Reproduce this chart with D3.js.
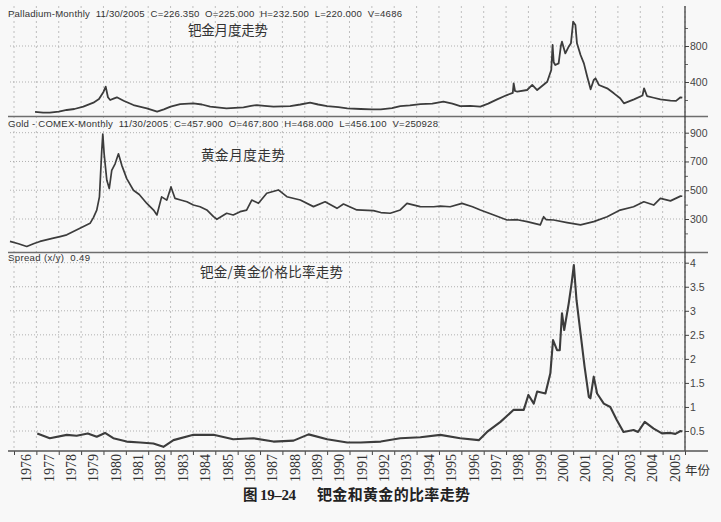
<!DOCTYPE html>
<html><head><meta charset="utf-8">
<script src="https://cdn.jsdelivr.net/npm/d3@7"></script>
<style>body{margin:0;background:#f8f8f8}svg{display:block}text{white-space:pre}</style>
</head><body><svg id="c" width="721" height="522"></svg>
<script>
// ---------- data (decimal year, value) ----------
const years = d3.range(1976, 2006);
const palladium = [[1976.94,67],[1977.3,60],[1977.6,59],[1978.0,72],[1978.36,89],[1978.7,100],[1979.1,126],[1979.55,170],[1979.8,210],[1980.0,290],[1980.1,348],[1980.2,230],[1980.3,200],[1980.45,215],[1980.6,230],[1980.9,192],[1981.34,144],[1981.94,108],[1982.4,70],[1982.7,95],[1983.0,126],[1983.43,155],[1984.02,163],[1984.4,150],[1984.77,126],[1985.5,108],[1986.26,119],[1986.6,135],[1986.86,144],[1987.2,135],[1987.6,126],[1988.35,133],[1988.8,150],[1989.24,170],[1989.6,150],[1990.0,133],[1990.5,120],[1990.9,108],[1991.5,100],[1992.0,95],[1992.4,96],[1992.9,110],[1993.27,133],[1993.7,140],[1994.17,155],[1994.7,160],[1995.2,181],[1995.6,160],[1995.95,133],[1996.4,135],[1996.85,126],[1997.2,160],[1997.6,207],[1998.04,255],[1998.3,280],[1998.34,385],[1998.4,300],[1998.5,293],[1998.94,311],[1999.17,367],[1999.39,311],[1999.84,403],[2000.02,533],[2000.08,811],[2000.13,620],[2000.2,589],[2000.35,607],[2000.45,800],[2000.5,848],[2000.65,718],[2000.8,792],[2000.9,830],[2000.97,1000],[2001.0,1070],[2001.1,1033],[2001.17,830],[2001.33,700],[2001.48,607],[2001.63,459],[2001.78,319],[2001.92,422],[2002.0,441],[2002.15,367],[2002.52,330],[2002.82,274],[2003.1,219],[2003.27,163],[2003.72,207],[2004.1,250],[2004.17,330],[2004.3,244],[2004.6,225],[2004.9,207],[2005.35,192],[2005.6,190],[2005.8,230],[2005.88,226]];
const gold = [[1975.82,144],[1976.2,128],[1976.57,109],[1976.9,130],[1977.16,144],[1977.76,167],[1978.06,178],[1978.36,190],[1978.95,235],[1979.4,270],[1979.55,310],[1979.7,362],[1979.82,454],[1979.92,765],[1979.97,891],[1980.03,753],[1980.15,569],[1980.26,512],[1980.37,638],[1980.52,684],[1980.67,753],[1980.82,673],[1981.04,581],[1981.34,500],[1981.6,470],[1981.94,408],[1982.24,362],[1982.39,328],[1982.6,454],[1982.83,431],[1983.02,523],[1983.2,443],[1983.45,432],[1983.73,420],[1984.02,397],[1984.32,385],[1984.62,363],[1984.92,316],[1985.07,298],[1985.51,340],[1985.8,328],[1986.11,351],[1986.4,362],[1986.63,432],[1986.93,409],[1987.3,479],[1987.82,502],[1988.2,455],[1988.8,432],[1989.39,386],[1989.91,420],[1990.44,374],[1990.73,404],[1991.33,363],[1992.07,358],[1992.4,345],[1992.82,340],[1993.27,363],[1993.57,409],[1994.16,386],[1994.76,385],[1995.06,390],[1995.5,385],[1996.03,409],[1996.5,385],[1996.85,363],[1997.45,328],[1998.04,293],[1998.5,295],[1998.94,282],[1999.53,259],[1999.68,316],[1999.8,295],[2000.13,293],[2000.73,275],[2001.33,259],[2001.92,282],[2002.52,316],[2003.1,362],[2003.7,385],[2004.16,420],[2004.6,397],[2004.9,443],[2005.35,426],[2005.8,459],[2005.88,458]];
const spread = [[1977.04,0.45],[1977.6,0.35],[1978.36,0.42],[1978.8,0.40],[1979.3,0.45],[1979.7,0.38],[1980.07,0.46],[1980.44,0.35],[1981.04,0.28],[1981.64,0.26],[1982.23,0.24],[1982.68,0.17],[1983.13,0.31],[1984.02,0.42],[1984.92,0.42],[1985.8,0.33],[1986.7,0.35],[1987.6,0.28],[1988.5,0.30],[1989.17,0.43],[1990.0,0.33],[1990.9,0.26],[1991.5,0.26],[1992.4,0.28],[1993.27,0.35],[1994.17,0.37],[1995.06,0.42],[1995.95,0.35],[1996.78,0.31],[1997.15,0.48],[1997.75,0.69],[1998.34,0.94],[1998.79,0.94],[1999.0,1.25],[1999.24,1.07],[1999.39,1.32],[1999.76,1.28],[1999.98,1.70],[2000.1,2.39],[2000.28,2.18],[2000.4,2.18],[2000.5,2.95],[2000.6,2.60],[2000.8,3.15],[2000.93,3.57],[2001.03,3.95],[2001.15,3.22],[2001.33,2.53],[2001.51,1.84],[2001.7,1.21],[2001.77,1.18],[2001.92,1.63],[2002.07,1.28],[2002.37,1.07],[2002.66,1.0],[2002.95,0.73],[2003.25,0.48],[2003.7,0.52],[2003.9,0.48],[2004.2,0.69],[2004.6,0.55],[2004.97,0.45],[2005.35,0.46],[2005.57,0.44],[2005.8,0.50],[2005.88,0.49]];
const pdTicks = [400, 800], pdMinor = [200, 600, 1000];
const goldTicks = [300, 500, 700, 900], goldMinor = [200, 400, 600, 800];
const spreadTicks = [0.5, 1, 1.5, 2, 2.5, 3, 3.5, 4];
const pdHeader = "Palladium-Monthly  11/30/2005  C=226.350  O=225.000  H=232.500  L=220.000  V=4686";
const goldHeader = "Gold - COMEX-Monthly  11/30/2005  C=457.900  O=467.800  H=468.000  L=456.100  V=250928";
const spreadHeader = "Spread (x/y)  0.49";
const pdTitle = "钯金月度走势", goldTitle = "黄金月度走势", spreadTitle = "钯金/黄金价格比率走势";
const xUnit = "年份", captionFig = "图", captionNo = "19–24", captionText = "钯金和黄金的比率走势";

// ---------- layout ----------
const svg = d3.select("#c");
svg.append("rect").attr("width",721).attr("height",522).attr("fill","#f8f8f8");
const axisX = 685, left = 8, sepRight = 708;
const x = d3.scaleLinear().domain([1976, 2006]).range([14, axisX]);
const panels = [
  {data: palladium, y: d3.scaleLinear().domain([400,800]).range([82,46]), top: 5, bottom: 116.5, ticks: pdTicks, minor: pdMinor, fmt: d3.format("d"), w: 1.8},
  {data: gold, y: d3.scaleLinear().domain([300,900]).range([219,132.7]), top: 116.5, bottom: 252.5, ticks: goldTicks, minor: goldMinor, fmt: d3.format("d"), w: 1.7},
  {data: spread, y: d3.scaleLinear().domain([0.5,4]).range([431,262.7]), top: 252.5, bottom: 451, ticks: spreadTicks, minor: [], fmt: d => String(d), w: 2.1}
];

// vertical grid
svg.append("g").selectAll("line").data(years.concat([2006])).join("line")
  .attr("x1", d => x(d)).attr("x2", d => x(d)).attr("y1", 6).attr("y2", 451)
  .attr("stroke", "#b0b0b0").attr("stroke-width", 0.8).attr("stroke-dasharray", "2,3");

panels.forEach((p, i) => {
  svg.append("g").selectAll("line").data(p.ticks).join("line")
    .attr("x1", left+2).attr("x2", axisX).attr("y1", d => p.y(d)).attr("y2", d => p.y(d))
    .attr("stroke", "#a8a8a8").attr("stroke-width", 0.9).attr("stroke-dasharray", "1,2");
  svg.append("clipPath").attr("id", "cp"+i).append("rect")
    .attr("x", left).attr("y", p.top+1).attr("width", axisX-left).attr("height", p.bottom-p.top-2);
  const line = d3.line().x(d => x(d[0])).y(d => p.y(d[1]));
  svg.append("path").datum(p.data).attr("d", line).attr("clip-path", "url(#cp"+i+")")
    .attr("fill", "none").attr("stroke", "#3c3c3c").attr("stroke-width", p.w)
    .attr("stroke-linejoin", "round");
  const ax = svg.append("g").attr("transform", `translate(${axisX},0)`)
    .call(d3.axisRight(p.y).tickValues(p.ticks).tickFormat(p.fmt).tickSize(4).tickPadding(1));
  ax.select(".domain").remove();
  ax.selectAll("line").attr("stroke", "#444");
  ax.selectAll("text").attr("font-family", "Liberation Sans, Arial, sans-serif").attr("font-size", 10.5).attr("fill", "#444");
  const mn = svg.append("g").attr("transform", `translate(${axisX},0)`)
    .call(d3.axisRight(p.y).tickValues(p.minor).tickFormat("").tickSize(3));
  mn.select(".domain").remove();
  mn.selectAll("line").attr("stroke", "#666");
});

// separators
[116.5, 252.5].forEach(yy => svg.append("line").attr("x1", left).attr("x2", sepRight)
  .attr("y1", yy).attr("y2", yy).attr("stroke", "#6e6e6e").attr("stroke-width", 1.6));
svg.append("line").attr("x1", axisX).attr("x2", axisX).attr("y1", 6).attr("y2", 451)
  .attr("stroke", "#333").attr("stroke-width", 1.2);

// bottom axis
const bx = svg.append("g").attr("transform", "translate(0,451)")
  .call(d3.axisBottom(x).tickValues(years.concat([2006])).tickFormat("").tickSize(4));
bx.select(".domain").remove();
bx.selectAll("line").attr("stroke", "#444");
svg.append("line").attr("x1", left).attr("x2", sepRight).attr("y1", 451).attr("y2", 451)
  .attr("stroke", "#555").attr("stroke-width", 1.4);
const lx = svg.append("g").attr("transform", "translate(0,454)")
  .call(d3.axisBottom(x).tickValues(years.map(d => d + 0.5)).tickFormat(d => String(Math.floor(d))).tickSize(0));
lx.select(".domain").remove();
lx.selectAll(".tick").attr("transform", d => `translate(${x(d)+1},0)`);
lx.selectAll("text")
  .attr("transform", "rotate(-90)")
  .attr("x", 0).attr("y", 0).attr("dy", "0.36em").attr("text-anchor", "end")
  .attr("font-family", "Liberation Serif, Times New Roman, serif").attr("font-size", 14).attr("fill", "#333");

// headers
const sans = "Liberation Sans, Arial, sans-serif";
svg.append("text").attr("x", 8).attr("y", 17).text(pdHeader).attr("font-family", sans).attr("font-size", 9.6).attr("fill", "#333").attr("textLength", 394).attr("lengthAdjust", "spacing");
svg.append("text").attr("x", 8).attr("y", 126.5).text(goldHeader).attr("font-family", sans).attr("font-size", 9.6).attr("fill", "#333").attr("textLength", 430).attr("lengthAdjust", "spacing");
svg.append("text").attr("x", 8).attr("y", 261).text(spreadHeader).attr("font-family", sans).attr("font-size", 9.6).attr("fill", "#333").attr("textLength", 82).attr("lengthAdjust", "spacing");

const cjk = "Noto Sans CJK SC, sans-serif";
svg.append("text").attr("x", 188).attr("y", 35).text(pdTitle).attr("font-family", cjk).attr("font-size", 13.5).attr("fill", "#333").attr("textLength", 80);
svg.append("text").attr("x", 201).attr("y", 160).text(goldTitle).attr("font-family", cjk).attr("font-size", 13.5).attr("fill", "#333").attr("textLength", 84);
svg.append("text").attr("x", 200).attr("y", 277).text(spreadTitle).attr("font-family", cjk).attr("font-size", 13.5).attr("fill", "#333").attr("textLength", 143);
svg.append("text").attr("x", 685).attr("y", 475).text(xUnit).attr("font-family", cjk).attr("font-size", 12.5).attr("fill", "#333");

// caption
svg.append("text").attr("x", 243).attr("y", 500).text(captionFig).attr("font-family", cjk).attr("font-weight", "bold").attr("font-size", 14.5).attr("fill", "#222");
svg.append("text").attr("x", 260).attr("y", 500).text(captionNo).attr("font-family", "Liberation Serif, serif").attr("font-weight", "bold").attr("font-size", 15).attr("fill", "#222").attr("textLength", 36);
svg.append("text").attr("x", 317).attr("y", 500).text(captionText).attr("font-family", cjk).attr("font-weight", "bold").attr("font-size", 15).attr("fill", "#222").attr("textLength", 153);
</script></body></html>
